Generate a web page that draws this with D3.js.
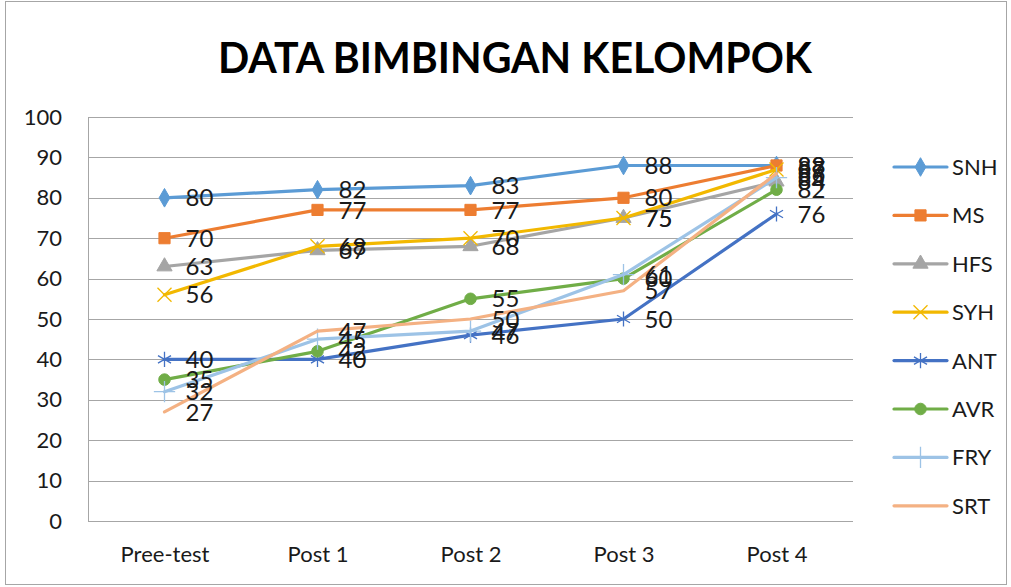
<!DOCTYPE html>
<html lang="en">
<head>
<meta charset="UTF-8"/>
<title>Data Bimbingan Kelompok</title>
<script src="https://d3js.org/d3.v7.min.js"></script>
<style>
  body { margin: 0; background: #fff; }
  svg { display: block; font-family: Lato, "Open Sans", sans-serif; }
</style>
</head>
<body>
<script>
    //chart data
    var categories = ["Pree-test", "Post 1", "Post 2", "Post 3", "Post 4"];
    var seriesNames = ["SNH", "MS", "HFS", "SYH", "ANT", "AVR", "FRY", "SRT"];
    var snh = [80, 82, 83, 88, 88];
    var ms  = [70, 77, 77, 80, 88];
    var hfs = [63, 67, 68, 75, 84];
    var syh = [56, 68, 70, 75, 87];
    var ant = [40, 40, 46, 50, 76];
    var avr = [35, 42, 55, 60, 82];
    var fry = [32, 45, 47, 61, 85];
    var srt = [27, 47, 50, 57, 86];
    var yTicks = [0, 10, 20, 30, 40, 50, 60, 70, 80, 90, 100];

    var seriesValues = [snh, ms, hfs, syh, ant, avr, fry, srt];
    var colors = ["#5B9BD5", "#ED7D31", "#A5A5A5", "#F2B800", "#4472C4", "#70AD47", "#9DC3E6", "#F4B183"];
    var markers = ["diamond", "square", "triangle", "times", "star", "circle", "plus", "none"];

    var w = 1011, h = 587;
    var plot = { left: 88, right: 853, top: 117, bottom: 521 };

    var svg = d3.select("body").append("svg")
        .attr("width", w)
        .attr("height", h);

    //outer chart border
    svg.append("rect")
        .attr("x", 5.5).attr("y", 1.5)
        .attr("width", 1001).attr("height", 583)
        .attr("fill", "none")
        .attr("stroke", "#A6A6A6")
        .attr("stroke-width", 1);

    //title
    svg.append("text")
        .attr("x", 515).attr("y", 73)
        .attr("text-anchor", "middle")
        .attr("font-size", 42)
        .attr("font-weight", "bold")
        .attr("textLength", 594)
        .attr("lengthAdjust", "spacingAndGlyphs")
        .text("DATA BIMBINGAN KELOMPOK");

    var xScale = d3.scalePoint()
        .domain(categories)
        .range([plot.left, plot.right])
        .padding(0.5);

    var yScale = d3.scaleLinear()
        .domain([0, 100])
        .range([plot.bottom, plot.top]);

    //gridlines
    svg.append("g").selectAll("line")
        .data(yTicks)
        .enter()
        .append("line")
        .attr("x1", plot.left).attr("x2", plot.right)
        .attr("y1", function (d) { return Math.round(yScale(d)) + 0.5; })
        .attr("y2", function (d) { return Math.round(yScale(d)) + 0.5; })
        .attr("stroke", "#A6A6A6")
        .attr("stroke-width", 1);

    //y axis line
    svg.append("line")
        .attr("x1", plot.left + 0.5).attr("x2", plot.left + 0.5)
        .attr("y1", plot.top).attr("y2", plot.bottom)
        .attr("stroke", "#A6A6A6");

    //y tick labels
    var yAxis = d3.axisLeft(yScale).tickValues(yTicks).tickSize(0).tickPadding(26);
    var yg = svg.append("g")
        .attr("transform", "translate(" + plot.left + ",0)")
        .call(yAxis);
    yg.select(".domain").remove();
    yg.selectAll("text")
        .attr("font-family", "Lato, sans-serif")
        .attr("font-size", 22)
        .attr("fill", "#1a1a1a");

    //x tick labels
    var xAxis = d3.axisBottom(xScale).tickSize(0).tickPadding(25);
    var xg = svg.append("g")
        .attr("transform", "translate(0," + plot.bottom + ")")
        .call(xAxis);
    xg.select(".domain").remove();
    xg.selectAll("text")
        .attr("font-family", "Lato, sans-serif")
        .attr("font-size", 22)
        .attr("fill", "#1a1a1a");

    function symbolFor(name) {
        var map = {
            diamond: [d3.symbolDiamond, 100],
            square: [d3.symbolSquare, 125],
            triangle: [d3.symbolTriangle, 100],
            times: [d3.symbolTimes || d3.symbolCross, 130],
            star: [d3.symbolAsterisk || d3.symbolCross, 160],
            circle: [d3.symbolCircle, 105],
            plus: [d3.symbolPlus || d3.symbolCross, 150]
        };
        return map[name];
    }
    var strokeMarkers = { times: true, star: true, plus: true };

    var line = d3.line()
        .x(function (d, i) { return xScale(categories[i]); })
        .y(function (d) { return yScale(d); });

    //lines and markers
    seriesValues.forEach(function (vals, s) {
        var g = svg.append("g");
        g.append("path")
            .attr("d", line(vals))
            .attr("fill", "none")
            .attr("stroke", colors[s])
            .attr("stroke-width", 3.2)
            .attr("stroke-linejoin", "round")
            .attr("stroke-linecap", "round");
        if (markers[s] !== "none") {
            var sym = symbolFor(markers[s]);
            g.selectAll("path.m")
                .data(vals)
                .enter()
                .append("path")
                .attr("class", "m")
                .attr("d", d3.symbol().type(sym[0]).size(sym[1]))
                .attr("transform", function (d, i) {
                    return "translate(" + xScale(categories[i]) + "," + yScale(d) + ")";
                })
                .attr("fill", strokeMarkers[markers[s]] ? "none" : colors[s])
                .attr("stroke", colors[s])
                .attr("stroke-width", strokeMarkers[markers[s]] ? 1.3 : 1);
        }
    });

    //data labels
    seriesValues.forEach(function (vals, s) {
        svg.append("g").selectAll("text")
            .data(vals)
            .enter()
            .append("text")
            .attr("x", function (d, i) { return xScale(categories[i]) + 21; })
            .attr("y", function (d) { return yScale(d); })
            .attr("dy", "0.36em")
            .attr("font-size", 24)
            .attr("fill", "#1a1a1a")
            .text(function (d) { return d; });
    });

    //legend
    var legend = svg.append("g");
    seriesNames.forEach(function (name, s) {
        var ly = 167 + s * 48.4;
        legend.append("line")
            .attr("x1", 894).attr("x2", 947)
            .attr("y1", ly).attr("y2", ly)
            .attr("stroke", colors[s])
            .attr("stroke-width", 3.2)
            .attr("stroke-linecap", "round");
        if (markers[s] !== "none") {
            var sym = symbolFor(markers[s]);
            legend.append("path")
                .attr("d", d3.symbol().type(sym[0]).size(sym[1]))
                .attr("transform", "translate(920.5," + ly + ")")
                .attr("fill", strokeMarkers[markers[s]] ? "none" : colors[s])
                .attr("stroke", colors[s])
                .attr("stroke-width", strokeMarkers[markers[s]] ? 1.3 : 1);
        }
        legend.append("text")
            .attr("x", 952).attr("y", ly)
            .attr("dy", "0.36em")
            .attr("font-size", 22)
            .attr("fill", "#1a1a1a")
            .text(name);
    });
</script>
</body>
</html>
